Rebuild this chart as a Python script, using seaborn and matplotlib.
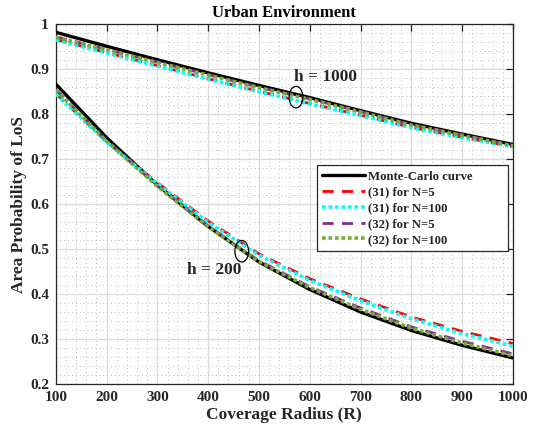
import numpy as np
import pandas as pd
import matplotlib
matplotlib.use("Agg")
import matplotlib.pyplot as plt
from matplotlib.patches import Ellipse
from matplotlib.ticker import MultipleLocator
import seaborn as sns

# Coverage radius samples
radius = [100, 200, 300, 400, 500, 600, 700, 800, 900, 1000]

# Altitude h = 1000
mc_h1000 = [0.982, 0.951, 0.921, 0.892, 0.864, 0.837, 0.808, 0.780, 0.756, 0.733]
eq31_n5_h1000 = [0.966, 0.937, 0.908, 0.879, 0.851, 0.824, 0.798, 0.771, 0.749, 0.728]
eq31_n100_h1000 = [0.965, 0.936, 0.907, 0.878, 0.850, 0.823, 0.797, 0.770, 0.748, 0.728]
eq32_n5_h1000 = [0.972, 0.944, 0.916, 0.888, 0.860, 0.834, 0.806, 0.777, 0.754, 0.731]
eq32_n100_h1000 = [0.971, 0.943, 0.915, 0.887, 0.859, 0.833, 0.805, 0.776, 0.753, 0.730]

# Altitude h = 200
mc_h200 = [0.867, 0.748, 0.643, 0.551, 0.472, 0.411, 0.361, 0.320, 0.287, 0.259]
eq31_n5_h200 = [0.846, 0.739, 0.648, 0.563, 0.490, 0.435, 0.390, 0.350, 0.318, 0.291]
eq31_n100_h200 = [0.845, 0.738, 0.646, 0.560, 0.487, 0.431, 0.386, 0.346, 0.313, 0.285]
eq32_n5_h200 = [0.855, 0.741, 0.641, 0.551, 0.475, 0.417, 0.370, 0.328, 0.296, 0.268]
eq32_n100_h200 = [0.854, 0.740, 0.640, 0.550, 0.473, 0.415, 0.367, 0.325, 0.292, 0.264]

labels = ["Monte-Carlo curve", "(31) for N=5", "(31) for N=100", "(32) for N=5", "(32) for N=100"]
colors = ["#000000", "#ff0000", "#00ffff", "#7e2f8e", "#77ac30"]
styles = [dict(ls="-", lw=2.4),
          dict(ls=(0, (4, 3)), lw=2.0),
          dict(ls=(0, (1, 0.8)), lw=2.6),
          dict(ls=(0, (4, 3)), lw=2.0),
          dict(ls=(0, (1, 0.8)), lw=2.6)]
series_h1000 = [mc_h1000, eq31_n5_h1000, eq31_n100_h1000, eq32_n5_h1000, eq32_n100_h1000]
series_h200 = [mc_h200, eq31_n5_h200, eq31_n100_h200, eq32_n5_h200, eq32_n100_h200]

sns.set_style("white")
plt.rcParams["font.family"] = ["Liberation Serif", "DejaVu Serif"]
plt.rcParams["font.weight"] = "bold"
plt.rcParams["axes.labelweight"] = "bold"
plt.rcParams["axes.titleweight"] = "bold"

fig = plt.figure(figsize=(5.37, 4.32), dpi=100)
ax = fig.add_axes([0.104, 0.110, 0.851, 0.834])

for i in range(5):
    for data, lab in ((series_h1000[i], labels[i]), (series_h200[i], None)):
        df = pd.DataFrame({"R": radius, "P": data})
        sns.lineplot(data=df, x="R", y="P", ax=ax, color=colors[i], label=lab,
                     zorder=3 + i, **styles[i])

ax.set_xlim(100, 1000)
ax.set_ylim(0.2, 1.0)
ax.xaxis.set_major_locator(MultipleLocator(100))
ax.xaxis.set_minor_locator(MultipleLocator(20))
ax.yaxis.set_minor_locator(MultipleLocator(0.02))
ax.set_yticks(np.arange(0.2, 1.01, 0.1))
ax.set_yticklabels(["0.2", "0.3", "0.4", "0.5", "0.6", "0.7", "0.8", "0.9", "1"])

ax.grid(which="major", color="#dcdcdc", lw=0.9, ls="-", zorder=0)
ax.grid(which="minor", color="#bdbdbd", lw=0.7, ls=(0, (1, 3)), zorder=0)
ax.set_axisbelow(True)

for s in ax.spines.values():
    s.set_color("#262626")
    s.set_linewidth(0.9)
ax.tick_params(which="major", direction="in", length=5, width=0.9, colors="#262626",
               top=True, right=True, labelsize=11, pad=5)
ax.tick_params(which="minor", length=0, top=True, right=True)
for t in ax.get_xticklabels() + ax.get_yticklabels():
    t.set_fontweight("bold")

ax.set_xlabel("Coverage Radius (R)", fontsize=12.5, color="#262626", labelpad=2)
ax.set_ylabel("Area Probability of LoS", fontsize=12.5, color="#262626", labelpad=2)
ax.set_title("Urban Environment", fontsize=12, color="#000000", pad=5)

ax.add_patch(Ellipse((573, 0.838), 27, 0.048, fill=False, color="black", lw=0.9, zorder=10))
ax.add_patch(Ellipse((466, 0.496), 27, 0.048, fill=False, color="black", lw=0.9, zorder=10))
ax.text(632, 0.882, "h = 1000", fontsize=12.5, fontweight="bold", ha="center", va="center", zorder=11)
ax.text(411, 0.454, "h = 200", fontsize=12.5, fontweight="bold", ha="center", va="center", zorder=11)

leg = ax.legend(loc="upper left", bbox_to_anchor=(0.572, 0.373, 0.418, 0.235), mode="expand",
                frameon=True, fancybox=False, fontsize=9.2, handlelength=3.3,
                handletextpad=0.3, borderpad=0.4, labelspacing=0.3, borderaxespad=0)
leg.get_frame().set_edgecolor("#262626")
leg.get_frame().set_linewidth(0.9)
leg.get_frame().set_alpha(1)
for t in leg.get_texts():
    t.set_fontweight("bold")

fig.savefig("out.png", dpi=100)
